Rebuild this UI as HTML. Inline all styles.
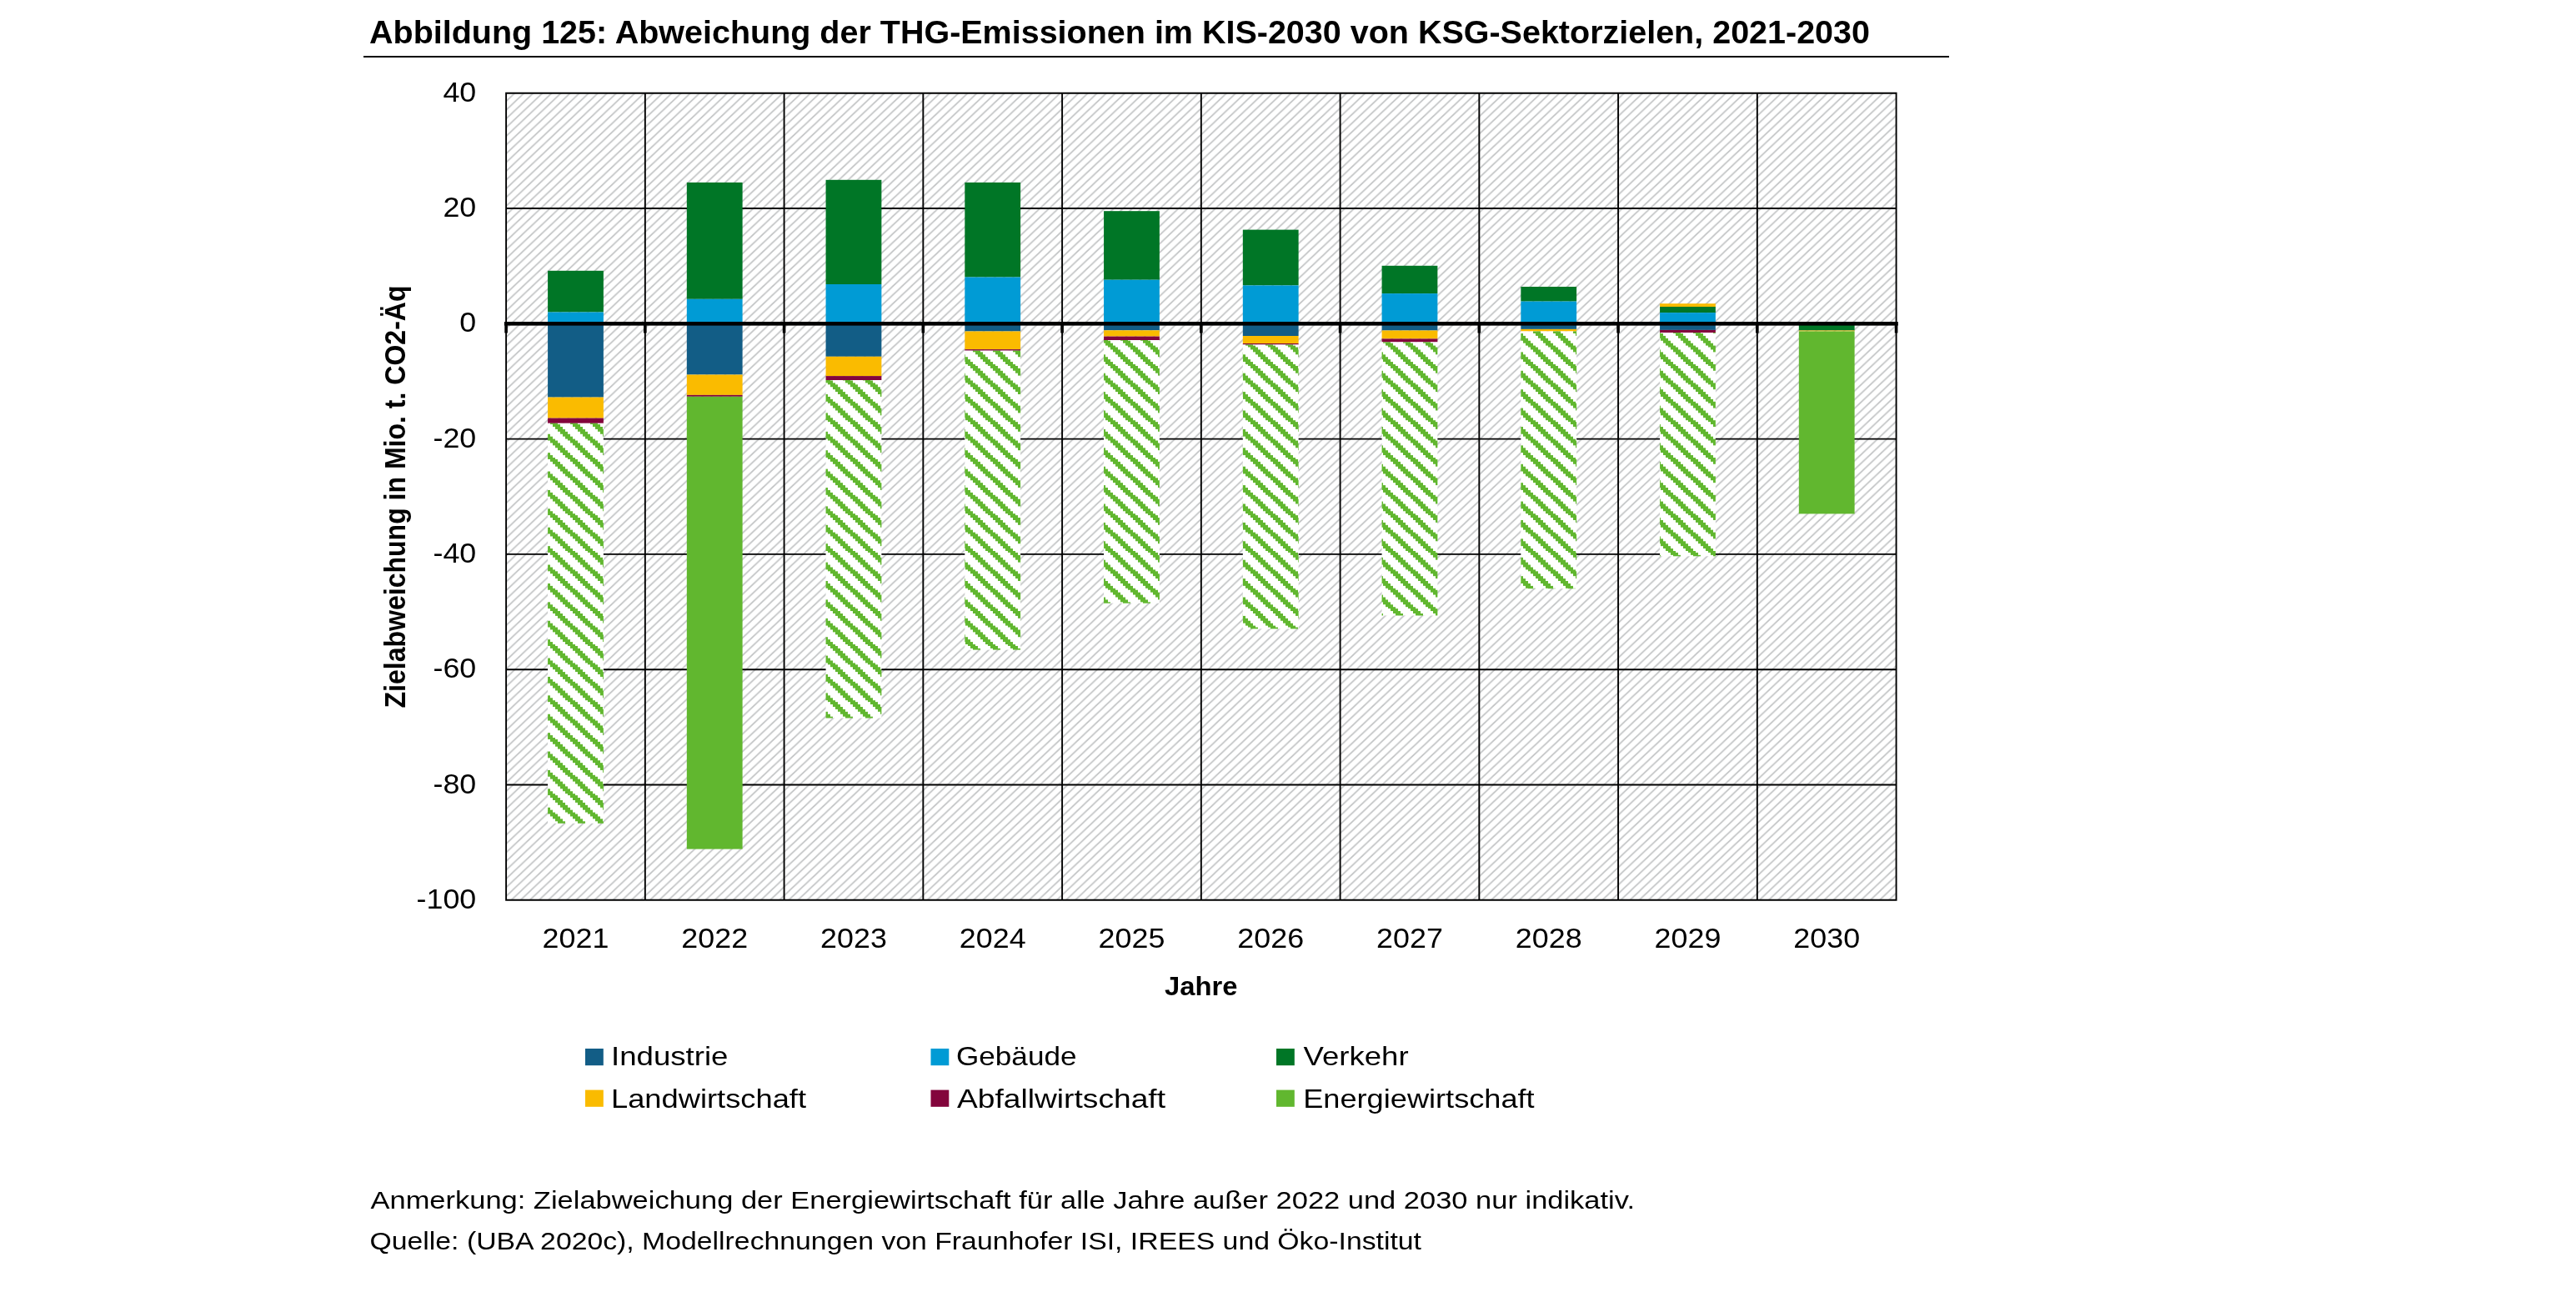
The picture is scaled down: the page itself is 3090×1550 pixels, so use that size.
<!DOCTYPE html>
<html lang="de"><head><meta charset="utf-8"><title>Abbildung 125</title>
<style>html,body{margin:0;padding:0;background:#fff}body{width:3090px;height:1550px;overflow:hidden}svg{display:block;will-change:transform}text{font-family:"Liberation Sans",sans-serif;fill:#000}</style>
</head><body>
<svg width="3090" height="1550" viewBox="0 0 3090 1550">
<defs>
<pattern id="bg" patternUnits="userSpaceOnUse" x="3.771" y="0" width="11.090" height="10.480">
<rect width="11.090" height="10.480" fill="#fff"/>
<path d="M-11.090 10.480 L11.090 -10.480 M0.000 20.960 L22.180 0.000 M-11.090 20.960 L22.180 -10.480" stroke="#c2c4c5" stroke-width="1.7" fill="none"/>
</pattern>
<pattern id="gh" patternUnits="userSpaceOnUse" x="0" y="-0.3" width="24.000" height="22.400">
<rect width="24.000" height="22.400" fill="#fff"/>
<path d="M21.00 0.000h3.02v2.820h-3.02zM0.00 0.000h3.02v2.820h-3.02zM3.00 0.000h3.02v2.820h-3.02zM0.00 2.800h3.02v2.820h-3.02zM3.00 2.800h3.02v2.820h-3.02zM6.00 2.800h3.02v2.820h-3.02zM3.00 5.600h3.02v2.820h-3.02zM6.00 5.600h3.02v2.820h-3.02zM9.00 5.600h3.02v2.820h-3.02zM6.00 8.400h3.02v2.820h-3.02zM9.00 8.400h3.02v2.820h-3.02zM12.00 8.400h3.02v2.820h-3.02zM9.00 11.200h3.02v2.820h-3.02zM12.00 11.200h3.02v2.820h-3.02zM15.00 11.200h3.02v2.820h-3.02zM12.00 14.000h3.02v2.820h-3.02zM15.00 14.000h3.02v2.820h-3.02zM18.00 14.000h3.02v2.820h-3.02zM15.00 16.800h3.02v2.820h-3.02zM18.00 16.800h3.02v2.820h-3.02zM21.00 16.800h3.02v2.820h-3.02zM18.00 19.600h3.02v2.820h-3.02zM21.00 19.600h3.02v2.820h-3.02zM0.00 19.600h3.02v2.820h-3.02z" fill="#61B72F" shape-rendering="crispEdges"/>
</pattern>
</defs>
<text x="443" y="51.5" font-size="38.0" font-weight="bold" textLength="1800" lengthAdjust="spacingAndGlyphs">Abbildung 125: Abweichung der THG-Emissionen im KIS-2030 von KSG-Sektorzielen, 2021-2030</text>
<rect x="436" y="67" width="1902" height="2" fill="#000"/>
<rect x="607.10" y="111.70" width="1667.50" height="968.10" fill="url(#bg)"/>
<path d="M606.15 111.70H2275.55M606.15 250.00H2275.55M606.15 526.60H2275.55M606.15 664.90H2275.55M606.15 803.20H2275.55M606.15 941.50H2275.55M606.15 1079.80H2275.55M607.10 110.75V1080.75M773.85 110.75V1080.75M940.60 110.75V1080.75M1107.35 110.75V1080.75M1274.10 110.75V1080.75M1440.85 110.75V1080.75M1607.60 110.75V1080.75M1774.35 110.75V1080.75M1941.10 110.75V1080.75M2107.85 110.75V1080.75M2274.60 110.75V1080.75" stroke="#000" stroke-width="1.9" fill="none"/>
<rect x="657.08" y="324.80" width="66.80" height="49.70" fill="#007626"/>
<rect x="657.08" y="374.50" width="66.80" height="13.80" fill="#009BD5"/>
<rect x="657.08" y="388.30" width="66.80" height="88.30" fill="#125D86"/>
<rect x="657.08" y="476.60" width="66.80" height="25.00" fill="#FABB00"/>
<rect x="657.08" y="501.60" width="66.80" height="6.20" fill="#83053C"/>
<rect x="657.08" y="507.80" width="66.80" height="480.00" fill="url(#gh)"/>
<rect x="823.83" y="218.90" width="66.80" height="139.90" fill="#007626"/>
<rect x="823.83" y="358.80" width="66.80" height="29.50" fill="#009BD5"/>
<rect x="823.83" y="388.30" width="66.80" height="61.20" fill="#125D86"/>
<rect x="823.83" y="449.50" width="66.80" height="24.40" fill="#FABB00"/>
<rect x="823.83" y="473.90" width="66.80" height="1.90" fill="#83053C"/>
<rect x="823.83" y="475.80" width="66.80" height="542.80" fill="#61B72F"/>
<rect x="990.58" y="215.80" width="66.80" height="125.20" fill="#007626"/>
<rect x="990.58" y="341.00" width="66.80" height="47.30" fill="#009BD5"/>
<rect x="990.58" y="388.30" width="66.80" height="39.50" fill="#125D86"/>
<rect x="990.58" y="427.80" width="66.80" height="23.30" fill="#FABB00"/>
<rect x="990.58" y="451.10" width="66.80" height="4.90" fill="#83053C"/>
<rect x="990.58" y="456.00" width="66.80" height="405.50" fill="url(#gh)"/>
<rect x="1157.32" y="218.90" width="66.80" height="113.60" fill="#007626"/>
<rect x="1157.32" y="332.50" width="66.80" height="55.80" fill="#009BD5"/>
<rect x="1157.32" y="388.30" width="66.80" height="9.20" fill="#125D86"/>
<rect x="1157.32" y="397.50" width="66.80" height="21.60" fill="#FABB00"/>
<rect x="1157.32" y="419.10" width="66.80" height="1.60" fill="#83053C"/>
<rect x="1157.32" y="420.70" width="66.80" height="358.90" fill="url(#gh)"/>
<rect x="1324.07" y="253.20" width="66.80" height="82.50" fill="#007626"/>
<rect x="1324.07" y="335.70" width="66.80" height="52.60" fill="#009BD5"/>
<rect x="1324.07" y="388.30" width="66.80" height="8.00" fill="#125D86"/>
<rect x="1324.07" y="396.30" width="66.80" height="7.30" fill="#FABB00"/>
<rect x="1324.07" y="403.60" width="66.80" height="4.40" fill="#83053C"/>
<rect x="1324.07" y="408.00" width="66.80" height="315.70" fill="url(#gh)"/>
<rect x="1490.82" y="275.60" width="66.80" height="66.80" fill="#007626"/>
<rect x="1490.82" y="342.40" width="66.80" height="45.90" fill="#009BD5"/>
<rect x="1490.82" y="388.30" width="66.80" height="14.70" fill="#125D86"/>
<rect x="1490.82" y="403.00" width="66.80" height="9.00" fill="#FABB00"/>
<rect x="1490.82" y="412.00" width="66.80" height="1.50" fill="#83053C"/>
<rect x="1490.82" y="413.50" width="66.80" height="340.90" fill="url(#gh)"/>
<rect x="1657.57" y="318.80" width="66.80" height="33.30" fill="#007626"/>
<rect x="1657.57" y="352.10" width="66.80" height="36.20" fill="#009BD5"/>
<rect x="1657.57" y="388.30" width="66.80" height="8.20" fill="#125D86"/>
<rect x="1657.57" y="396.50" width="66.80" height="9.90" fill="#FABB00"/>
<rect x="1657.57" y="406.40" width="66.80" height="4.00" fill="#83053C"/>
<rect x="1657.57" y="410.40" width="66.80" height="328.10" fill="url(#gh)"/>
<rect x="1824.32" y="344.00" width="66.80" height="17.60" fill="#007626"/>
<rect x="1824.32" y="361.60" width="66.80" height="26.70" fill="#009BD5"/>
<rect x="1824.32" y="388.30" width="66.80" height="6.60" fill="#125D86"/>
<rect x="1824.32" y="394.90" width="66.80" height="2.60" fill="#FABB00"/>
<rect x="1824.32" y="397.50" width="66.80" height="308.70" fill="url(#gh)"/>
<rect x="1991.07" y="364.20" width="66.80" height="3.80" fill="#FABB00"/>
<rect x="1991.07" y="368.00" width="66.80" height="7.10" fill="#007626"/>
<rect x="1991.07" y="375.10" width="66.80" height="13.20" fill="#009BD5"/>
<rect x="1991.07" y="388.30" width="66.80" height="7.60" fill="#125D86"/>
<rect x="1991.07" y="395.90" width="66.80" height="3.20" fill="#83053C"/>
<rect x="1991.07" y="399.10" width="66.80" height="268.20" fill="url(#gh)"/>
<rect x="2157.82" y="388.30" width="66.80" height="8.20" fill="#007626"/>
<rect x="2157.82" y="396.50" width="66.80" height="1.00" fill="#FABB00"/>
<rect x="2157.82" y="397.50" width="66.80" height="218.90" fill="#61B72F"/>
<rect x="604.90" y="386.00" width="1671.90" height="4.6" fill="#000"/>
<path d="M607.10 388.30V399.50M773.85 388.30V399.50M940.60 388.30V399.50M1107.35 388.30V399.50M1274.10 388.30V399.50M1440.85 388.30V399.50M1607.60 388.30V399.50M1774.35 388.30V399.50M1941.10 388.30V399.50M2107.85 388.30V399.50M2274.60 388.30V399.50" stroke="#000" stroke-width="3.6" fill="none"/>
<text transform="translate(571.3 121.80) scale(1.080 1)" font-size="33.2" text-anchor="end">40</text>
<text transform="translate(571.3 260.10) scale(1.080 1)" font-size="33.2" text-anchor="end">20</text>
<text transform="translate(571.3 398.40) scale(1.080 1)" font-size="33.2" text-anchor="end">0</text>
<text transform="translate(571.3 536.70) scale(1.080 1)" font-size="33.2" text-anchor="end">-20</text>
<text transform="translate(571.3 675.00) scale(1.080 1)" font-size="33.2" text-anchor="end">-40</text>
<text transform="translate(571.3 813.30) scale(1.080 1)" font-size="33.2" text-anchor="end">-60</text>
<text transform="translate(571.3 951.60) scale(1.080 1)" font-size="33.2" text-anchor="end">-80</text>
<text transform="translate(571.3 1089.90) scale(1.080 1)" font-size="33.2" text-anchor="end">-100</text>
<text transform="translate(690.48 1137.4) scale(1.080 1)" font-size="33.2" text-anchor="middle">2021</text>
<text transform="translate(857.23 1137.4) scale(1.080 1)" font-size="33.2" text-anchor="middle">2022</text>
<text transform="translate(1023.98 1137.4) scale(1.080 1)" font-size="33.2" text-anchor="middle">2023</text>
<text transform="translate(1190.72 1137.4) scale(1.080 1)" font-size="33.2" text-anchor="middle">2024</text>
<text transform="translate(1357.47 1137.4) scale(1.080 1)" font-size="33.2" text-anchor="middle">2025</text>
<text transform="translate(1524.22 1137.4) scale(1.080 1)" font-size="33.2" text-anchor="middle">2026</text>
<text transform="translate(1690.97 1137.4) scale(1.080 1)" font-size="33.2" text-anchor="middle">2027</text>
<text transform="translate(1857.72 1137.4) scale(1.080 1)" font-size="33.2" text-anchor="middle">2028</text>
<text transform="translate(2024.47 1137.4) scale(1.080 1)" font-size="33.2" text-anchor="middle">2029</text>
<text transform="translate(2191.22 1137.4) scale(1.080 1)" font-size="33.2" text-anchor="middle">2030</text>
<text transform="translate(1440.8 1193.6) scale(1.0 1)" font-size="31.8" font-weight="bold" text-anchor="middle" textLength="87.5" lengthAdjust="spacingAndGlyphs">Jahre</text>
<text transform="translate(486.2 849.5) rotate(-90)" font-size="35.3" font-weight="bold" textLength="507" lengthAdjust="spacingAndGlyphs">Zielabweichung in Mio. t. CO2-Äq</text>
<rect x="702.0" y="1258.0" width="21.8" height="20.2" fill="#125D86"/>
<text x="733.0" y="1278.2" font-size="31.8" textLength="140.5" lengthAdjust="spacingAndGlyphs">Industrie</text>
<rect x="1116.5" y="1258.0" width="21.8" height="20.2" fill="#009BD5"/>
<text x="1147.0" y="1278.2" font-size="31.8" textLength="144.5" lengthAdjust="spacingAndGlyphs">Gebäude</text>
<rect x="1531.0" y="1258.0" width="21.8" height="20.2" fill="#007626"/>
<text x="1563.6" y="1278.2" font-size="31.8" textLength="126.0" lengthAdjust="spacingAndGlyphs">Verkehr</text>
<rect x="702.0" y="1307.6" width="21.8" height="20.2" fill="#FABB00"/>
<text x="733.0" y="1329.0" font-size="31.8" textLength="234.0" lengthAdjust="spacingAndGlyphs">Landwirtschaft</text>
<rect x="1116.5" y="1307.6" width="21.8" height="20.2" fill="#83053C"/>
<text x="1148.0" y="1329.0" font-size="31.8" textLength="250.0" lengthAdjust="spacingAndGlyphs">Abfallwirtschaft</text>
<rect x="1531.0" y="1307.6" width="21.8" height="20.2" fill="#61B72F"/>
<text x="1563.2" y="1329.0" font-size="31.8" textLength="277.5" lengthAdjust="spacingAndGlyphs">Energiewirtschaft</text>
<text x="444.5" y="1450.2" font-size="28.9" textLength="1516.5" lengthAdjust="spacingAndGlyphs">Anmerkung: Zielabweichung der Energiewirtschaft für alle Jahre außer 2022 und 2030 nur indikativ.</text>
<text x="443.5" y="1499.4" font-size="28.9" textLength="1261.5" lengthAdjust="spacingAndGlyphs">Quelle: (UBA 2020c), Modellrechnungen von Fraunhofer ISI, IREES und Öko-Institut</text>
</svg>
</body></html>
